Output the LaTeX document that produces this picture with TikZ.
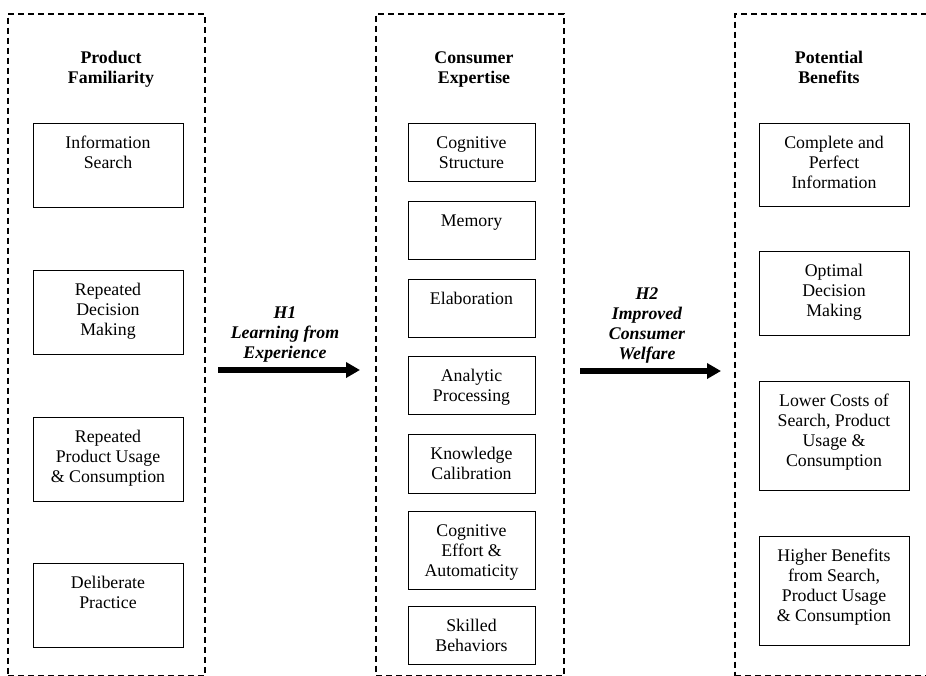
\documentclass[tikz,border=0pt]{standalone}
\usepackage{fontspec}
\setmainfont{Liberation Serif}
\usetikzlibrary{arrows.meta}
\newcommand\itembox[6]{%
  \node[itm, minimum width=#5, minimum height={#4-#3}] (#1) at (#2,{(#3+#4)/2}) {};
  \node[itmtxt, anchor=base] (#1-t) at ([yshift=-25.5pt]#1.north) {\begin{tabular}[t]{@{}c@{}}#6\end{tabular}};
}
\begin{document}
\begin{tikzpicture}[x=1pt,y=-1pt,
  every node/.style={font=\fontsize{17.8}{20}\selectfont},
  dashbox/.style={draw, line width=2pt, dash pattern=on 6pt off 4pt, inner sep=0pt, outer sep=0pt},
  itm/.style={draw, line width=1pt, inner sep=0pt, outer sep=0pt},
  itmtxt/.style={inner sep=0pt},
  hdr/.style={inner sep=0pt, font=\fontsize{17.8}{20}\selectfont\bfseries},
  hyp/.style={inner sep=0pt, font=\fontsize{17.8}{20}\selectfont\bfseries\itshape},
  bigarrow/.style={line width=5.5pt, -{Triangle[length=14pt,width=15pt]}}
]
\useasboundingbox (0,0) rectangle (926,675);
% outer dashed panels
\node[dashbox, minimum width=197, minimum height=662] (pf) at (106.5,344.5) {};
\node[dashbox, minimum width=188, minimum height=662] (ce) at (470,344.5) {};
\node[dashbox, minimum width=195, minimum height=662] (pb) at (832.5,344.5) {};
% headers
\node[hdr, anchor=base] (pfh) at (111,63) {\begin{tabular}[t]{@{}c@{}}Product\\Familiarity\end{tabular}};
\node[hdr, anchor=base] (ceh) at (474,63) {\begin{tabular}[t]{@{}c@{}}Consumer\\Expertise\end{tabular}};
\node[hdr, anchor=base] (pbh) at (829,63) {\begin{tabular}[t]{@{}c@{}}Potential\\Benefits\end{tabular}};
% left column
\itembox{is}{108}{123}{207}{150}{Information\\Search}
\itembox{rd}{108}{270}{354}{150}{Repeated\\Decision\\Making}
\itembox{rp}{108}{417}{501}{150}{Repeated\\Product Usage\\\& Consumption}
\itembox{dp}{108}{563}{647}{150}{Deliberate\\Practice}
% middle column
\itembox{cs}{471.5}{123}{181}{127}{Cognitive\\Structure}
\itembox{me}{471.5}{201}{259}{127}{Memory}
\itembox{el}{471.5}{279}{337}{127}{Elaboration}
\itembox{ap}{471.5}{356}{414}{127}{Analytic\\Processing}
\itembox{kc}{471.5}{434}{493}{127}{Knowledge\\Calibration}
\itembox{cf}{471.5}{511}{589}{127}{Cognitive\\Effort \&\\Automaticity}
\itembox{sb}{471.5}{606}{664}{127}{Skilled\\Behaviors}
% right column
\itembox{cp}{834}{123}{206}{150}{Complete and\\Perfect\\Information}
\itembox{od}{834}{251}{335}{150}{Optimal\\Decision\\Making}
\itembox{lc}{834}{381}{490}{150}{Lower Costs of\\Search, Product\\Usage \&\\Consumption}
\itembox{hb}{834}{536}{645}{150}{Higher Benefits\\from Search,\\Product Usage\\\& Consumption}
% hypotheses arrows
\coordinate (h1s) at (218,370);
\coordinate (h1e) at (360,370);
\coordinate (h2s) at (580,371);
\coordinate (h2e) at (721,371);
\draw[bigarrow] (h1s) -- (h1e);
\draw[bigarrow] (h2s) -- (h2e);
\node[hyp, anchor=base] (h1l) at (285,318) {\begin{tabular}[t]{@{}c@{}}H1\\Learning from\\Experience\end{tabular}};
\node[hyp, anchor=base] (h2l) at (647,299) {\begin{tabular}[t]{@{}c@{}}H2\\Improved\\Consumer\\Welfare\end{tabular}};
\end{tikzpicture}
\end{document}
